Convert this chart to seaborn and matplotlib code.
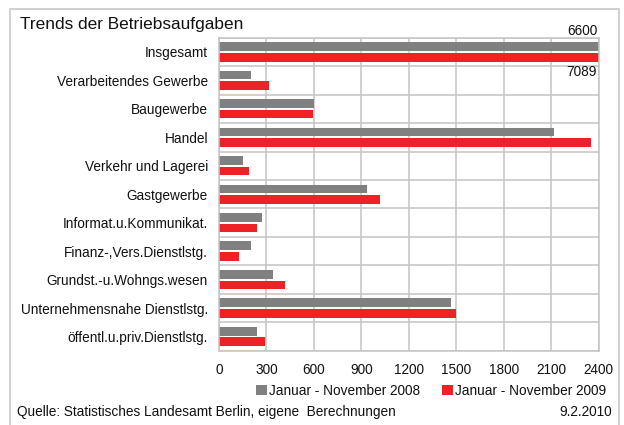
import matplotlib
matplotlib.use("Agg")
import matplotlib.pyplot as plt
from matplotlib.patches import Patch, Rectangle
import seaborn as sns
import pandas as pd

# Branches of economic activity (Berlin business closures)
categories = [
    "Insgesamt",
    "Verarbeitendes Gewerbe",
    "Baugewerbe",
    "Handel",
    "Verkehr und Lagerei",
    "Gastgewerbe",
    "Informat.u.Kommunikat.",
    "Finanz-,Vers.Dienstlstg.",
    "Grundst.-u.Wohngs.wesen",
    "Unternehmensnahe Dienstlstg.",
    "öffentl.u.priv.Dienstlstg.",
]
series_names = ["Januar - November 2008", "Januar - November 2009"]
values_2008 = [6600, 200, 600, 2120, 150, 935, 270, 205, 340, 1470, 240]
values_2009 = [7089, 315, 595, 2350, 190, 1020, 240, 125, 420, 1500, 290]
x_ticks = [0, 300, 600, 900, 1200, 1500, 1800, 2100, 2400]

colors = ["#808080", "#EE2226"]
grid_color = "#c4c4c4"
text_color = "#111111"

df = pd.DataFrame({
    "Bereich": categories * 2,
    "Zeitraum": [series_names[0]] * len(categories) + [series_names[1]] * len(categories),
    "Anzahl": values_2008 + values_2009,
})

sns.set_theme(style="white")
plt.rcParams["font.family"] = ["Liberation Sans", "DejaVu Sans"]

fig = plt.figure(figsize=(6.24, 4.25), dpi=100)
ax = fig.add_axes([219 / 624, 1 - 350.7 / 425, (598.5 - 219) / 624, (350.7 - 37.7) / 425])

sns.barplot(data=df, y="Bereich", x="Anzahl", hue="Zeitraum", order=categories,
            hue_order=series_names, palette=colors, orient="h", width=0.746, gap=0.18,
            saturation=1, legend=False, linewidth=0, ax=ax)

ax.set_xlim(x_ticks[0], x_ticks[-1])
ax.set_ylim(len(categories) - 0.5, -0.5)
ax.set_xticks(x_ticks)
ax.set_xticklabels([str(t) for t in x_ticks], fontsize=9.8, color=text_color)
ax.tick_params(axis="y", labelsize=9.8, labelcolor=text_color, length=0, pad=8)
ax.tick_params(axis="x", length=0, pad=8.5)
ax.set_xlabel("")
ax.set_ylabel("")

# grid: vertical at ticks, horizontal between categories
ax.set_yticks([i + 0.5 for i in range(-1, len(categories))], minor=True)
ax.tick_params(axis="y", which="minor", length=0)
ax.grid(axis="x", which="major", color=grid_color, linewidth=1.1)
ax.grid(axis="y", which="minor", color=grid_color, linewidth=1.1)
ax.set_axisbelow(True)
for sp in ax.spines.values():
    sp.set_color(grid_color)
    sp.set_linewidth(1.1)

# Totals exceed the scale: bars are clipped, values written at the edge
xmax = x_ticks[-1]
gray_bar = ax.containers[0][0]
red_bar = ax.containers[1][0]
ax.annotate(str(values_2008[0]), xy=(xmax, gray_bar.get_y()),
            xytext=(-1, 3), textcoords="offset points", ha="right", va="bottom",
            fontsize=9.8, color=text_color, annotation_clip=False)
ax.annotate(str(values_2009[0]), xy=(xmax, red_bar.get_y() + red_bar.get_height()),
            xytext=(-1, -2.5), textcoords="offset points", ha="right", va="top",
            fontsize=9.8, color=text_color, annotation_clip=False)

fig.text(20 / 624, 1 - 28.5 / 425, "Trends der Betriebsaufgaben", fontsize=12.4,
         color=text_color, ha="left", va="baseline")

handles = [Patch(facecolor=c, edgecolor="none") for c in colors]
fig.legend(handles, series_names, loc="center", bbox_to_anchor=(431 / 624, 1 - 391 / 425),
           ncol=2, frameon=False, fontsize=9.8, handlelength=0.8, handleheight=0.8,
           handletextpad=0.15, columnspacing=1.6, borderpad=0, labelcolor=text_color)

fig.text(17 / 624, 1 - 416 / 425, "Quelle: Statistisches Landesamt Berlin, eigene  Berechnungen",
         fontsize=9.8, color=text_color, ha="left", va="baseline")
fig.text(611.5 / 624, 1 - 416 / 425, "9.2.2010", fontsize=9.8, color=text_color,
         ha="right", va="baseline")

# outer frame
fig.patches.append(Rectangle((9.5 / 624, -0.02), (619 - 9.5) / 624, 0.02 + 1 - 8.5 / 425,
                             transform=fig.transFigure, fill=False,
                             edgecolor="#c8c8c8", linewidth=1.2))

fig.savefig("out.png", dpi=100, facecolor="white")
